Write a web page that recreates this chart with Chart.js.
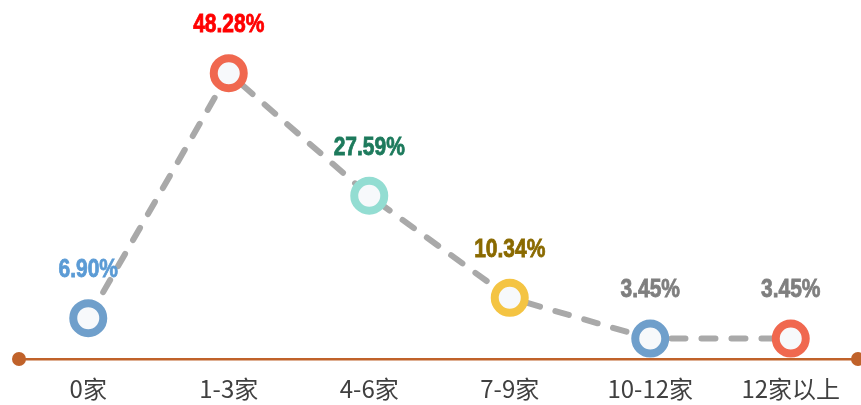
<!DOCTYPE html>
<html>
<head>
<meta charset="utf-8">
<script src="https://cdn.jsdelivr.net/npm/chart.js@4.4.1/dist/chart.umd.min.js"></script>
<style>
  html, body { margin: 0; padding: 0; background: #fff; }
  #wrap { width: 861px; height: 405px; position: relative; }
</style>
</head>
<body>
<div id="wrap"><canvas id="chart"></canvas></div>
<script>
// ---- data ----
const categories = ['0家', '1-3家', '4-6家', '7-9家', '10-12家', '12家以上'];
const shares = [6.90, 48.28, 27.59, 10.34, 3.45, 3.45];
const pointColors = ['#6f9fcb', '#f0684f', '#93ddd2', '#f4c443', '#6f9fcb', '#f0684f'];
const labelColors = ['#5b9bd5', '#ff0000', '#1d7a5c', '#8a6a00', '#7f7f7f', '#7f7f7f'];

const AXIS = '#c0622a';

// value labels above each point (bold, squeezed horizontally)
const valueLabels = {
  id: 'valueLabels',
  afterDatasetsDraw(chart) {
    const ctx = chart.ctx;
    const meta = chart.getDatasetMeta(0);
    const sx = 0.84;
    ctx.save();
    ctx.font = 'bold 25px "Liberation Sans", Arial, sans-serif';
    ctx.textAlign = 'center';
    ctx.textBaseline = 'middle';
    ctx.lineWidth = 0.8;
    meta.data.forEach((pt, i) => {
      ctx.save();
      ctx.translate(pt.x, pt.y - 48);
      ctx.scale(sx, 1);
      ctx.fillStyle = labelColors[i];
      ctx.strokeStyle = labelColors[i];
      const txt = shares[i].toFixed(2) + '%';
      ctx.fillText(txt, 0, 0);
      ctx.strokeText(txt, 0, 0);
      ctx.restore();
    });
    ctx.restore();
  }
};

// round dots at both ends of the x axis line
const axisDots = {
  id: 'axisDots',
  afterDraw(chart) {
    const { ctx, chartArea } = chart;
    ctx.save();
    ctx.fillStyle = AXIS;
    [chartArea.left + 1, chartArea.right - 3].forEach(x => {
      ctx.beginPath();
      ctx.arc(x, chartArea.bottom, 7, 0, Math.PI * 2);
      ctx.fill();
    });
    ctx.restore();
  }
};

new Chart(document.getElementById('chart'), {
  type: 'line',
  data: {
    labels: categories,
    datasets: [{
      data: shares,
      borderColor: '#a9a9a9',
      borderWidth: 6,
      borderDash: [14, 16],
      borderCapStyle: 'round',
      tension: 0,
      pointRadius: 15,
      pointHoverRadius: 15,
      pointBorderWidth: 8,
      pointBorderColor: pointColors,
      pointBackgroundColor: '#f7f9fb',
      clip: false
    }]
  },
  options: {
    responsive: true, maintainAspectRatio: false, animation: false,
    layout: { autoPadding: false, padding: { left: 18, right: 0, top: 63, bottom: 0 } },
    plugins: { legend: { display: false }, tooltip: { enabled: false } },
    scales: {
      x: {
        offset: true,
        grid: { display: false, drawTicks: false },
        border: { display: true, color: AXIS, width: 2.5 },
        ticks: {
          color: '#404040', padding: 15,
          font: { family: '"Noto Sans CJK SC", "Noto Sans", sans-serif', size: 24 }
        },
        afterFit(scale) {
          scale.height = 46;
          scale.paddingLeft = 0;
          scale.paddingRight = 0;
        }
      },
      y: { display: false, min: 0, max: 50 }
    }
  },
  plugins: [valueLabels, axisDots]
});
</script>
</body>
</html>
